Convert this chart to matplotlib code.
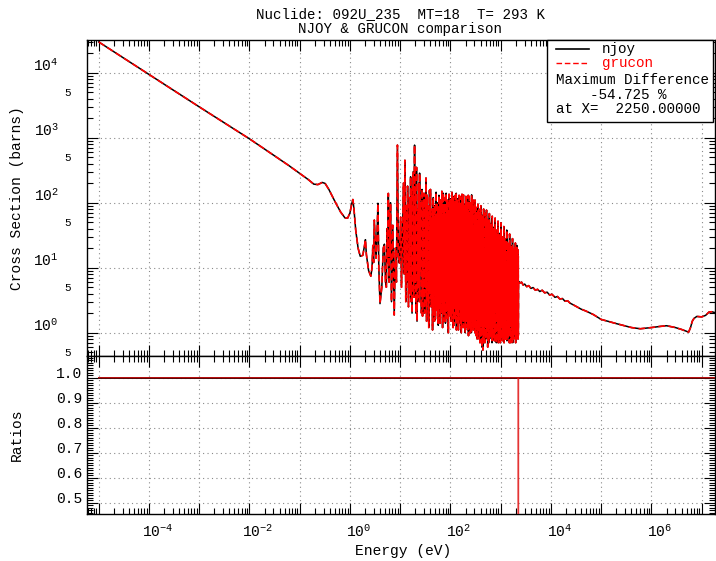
import matplotlib
matplotlib.use('Agg')
import matplotlib.pyplot as plt
import numpy as np
from matplotlib.ticker import LogLocator, MultipleLocator, FuncFormatter
from matplotlib.transforms import ScaledTranslation
from matplotlib.lines import Line2D
from matplotlib.patches import Rectangle

plt.rcParams['font.family'] = ['Liberation Mono', 'DejaVu Sans']
plt.rcParams['mathtext.default'] = 'regular'
plt.rcParams['path.simplify'] = False

# ---------------- data ----------------
title_line1 = "Nuclide: 092U_235  MT=18  T= 293 K"
title_line2 = "NJOY & GRUCON comparison"
legend_names = ["njoy", "grucon"]
max_diff_text = ["Maximum Difference", "-54.725 %", "at X=  2250.00000"]

thermal_E = [1e-5, 1e-4, 1e-3, 1e-2, 0.03, 0.06, 0.1, 0.15, 0.19, 0.23, 0.28, 0.32,
             0.38, 0.5, 0.65, 0.8, 0.9, 1.0, 1.08, 1.14, 1.2, 1.3, 1.45]
thermal_sigma = [29700, 9400, 2980, 960, 540, 375, 282, 225, 193, 190, 205, 198,
                 160, 105, 72, 58, 58, 70, 95, 112, 80, 38, 20]

res_low_E = [1.6, 1.8, 1.95, 2.03, 2.12, 2.35, 2.6, 2.75, 2.85, 2.95,
             3.05, 3.3, 3.45, 3.6, 3.75, 3.96, 4.3, 4.6, 4.85, 5.1,
             5.3, 5.5, 5.65, 5.8, 6.0, 6.2, 6.3, 6.4, 6.7, 7.1,
             7.6, 8.0, 8.4, 8.8, 9.2, 9.6, 10.2, 10.6, 11.6, 12.0,
             12.4, 12.9, 13.3, 13.8, 14.0, 14.6, 15.4, 15.8, 16.1, 16.5,
             16.7, 17.2, 18.1, 18.7, 19.3, 19.8, 20.1, 20.6, 21.1, 21.6,
             22.9, 23.1, 23.4, 24.0, 24.3, 25.0, 25.6, 26.5, 27.2, 27.8,
             28.4, 29.0, 29.7, 30.5, 31.4, 32.0, 32.6, 33.5, 34.4, 35.2,
             36.2, 37.0, 38.3, 39.0]
res_low_sigma = [15, 15.5, 22, 27, 16, 9, 7.4, 10, 22, 12,
                 54, 14, 30, 98, 10, 2.8, 5, 20, 23, 6,
                 5, 40, 12, 139, 6, 70, 15, 100, 3, 45,
                 1.87, 20, 6, 770, 15, 11.8, 60, 5, 200, 8,
                 450, 3, 90, 6, 180, 2.5, 120, 4, 250, 3,
                 160, 2, 300, 3.5, 770, 6, 150, 2, 350, 1.5,
                 80, 5, 200, 3, 285, 9.2, 100, 2, 160, 1.8,
                 90, 4, 140, 2, 110, 5, 240, 1.5, 130, 3,
                 90, 1.2, 155, 4]

# dense resolved-resonance band, (energy eV, cross section b)
band_a = [(40.0, 160), (40.4, 6), (40.8, 45), (41.2, 2.5), (41.7, 35), (42.1, 9),
          (42.6, 60), (43.1, 3), (43.5, 80), (44.0, 1.1), (44.5, 25), (45.0, 5),
          (45.5, 120), (46.0, 2), (46.5, 70), (47.0, 4), (47.5, 40), (48.0, 1.5),
          (48.5, 90), (49.0, 7), (49.6, 55), (50.1, 1.6), (50.7, 30), (51.2, 3.5),
          (51.8, 145), (52.4, 2.2), (52.9, 65), (53.5, 3.0), (54.1, 100), (54.7, 8),
          (55.3, 70), (55.9, 1.8), (56.6, 40), (57.2, 1.3), (57.8, 85), (58.4, 5),
          (59.0, 130), (59.7, 2.5), (60.3, 50), (61.0, 6), (61.7, 95), (62.4, 1.4),
          (63.1, 110), (63.8, 4), (64.5, 35), (65.2, 2.0), (65.9, 75), (66.7, 10),
          (67.4, 150), (68.1, 3), (68.9, 60), (69.6, 1.2), (70.4, 45), (71.2, 5),
          (72.0, 140), (72.8, 2), (73.6, 90), (74.4, 3.5), (75.2, 30), (76.1, 1.5),
          (76.9, 80), (77.8, 6), (78.6, 120), (79.5, 1.4), (80.4, 50), (81.2, 3),
          (82.1, 140), (83.0, 1.7), (84.0, 65), (84.9, 2.2), (85.8, 110), (86.8, 7),
          (87.7, 100), (88.7, 2.5), (89.7, 40), (90.7, 1.0), (91.7, 75), (92.7, 4),
          (93.7, 135), (94.7, 2), (95.8, 55), (96.8, 4.5), (97.9, 90), (99.0, 1.8)]
band_b = [(100, 115), (101.1, 3), (102.3, 60), (103.4, 1.5), (104.6, 95), (105.7, 6),
          (106.9, 145), (108.1, 2), (109.3, 50), (110.5, 2.8), (111.8, 120), (113.0, 1.2),
          (114.2, 125), (115.5, 5), (116.7, 40), (118, 1.3), (119.3, 85), (120.6, 2.5),
          (122, 90), (123.3, 9), (124.7, 130), (126, 1.6), (127.4, 45), (128.9, 3.5),
          (130.3, 140), (131.8, 1.1), (133.2, 70), (134.7, 3.2), (136.2, 115), (137.7, 1.9),
          (139.2, 105), (140.8, 6), (142.3, 35), (143.9, 1.1), (145.5, 95), (147.1, 2.3),
          (148.7, 130), (150.4, 4), (152.0, 55), (153.7, 2.4), (155.4, 125), (157.2, 1.4),
          (158.9, 85), (160.7, 7), (162.4, 40), (164.2, 1.0), (166.0, 100), (167.9, 3),
          (169.7, 135), (171.6, 1.6), (173.5, 65), (175.4, 3.0), (177.4, 110), (179.3, 1.2),
          (181.3, 132), (183.3, 5), (185.4, 45), (187.4, 1.8), (189.5, 90), (191.6, 2.8),
          (193.7, 95), (195.9, 1.0), (198.0, 60), (200.2, 1.2), (202.5, 125), (204.7, 4),
          (207, 120), (209.3, 1.5), (211.6, 50), (214, 2.6), (216.3, 105), (218.7, 1.1),
          (221, 75), (223.5, 6), (226.0, 130), (228.5, 0.9), (231.0, 40), (233.5, 2.4),
          (236, 125), (238.6, 1.3), (241.3, 70), (244, 2.0), (246.8, 35), (249.6, 1.0)]
band_c = [(252.5, 100), (255.3, 3), (258.1, 55), (261, 1.0), (264, 132), (267, 2),
          (270, 90), (273, 1.3), (276, 45), (279, 3.5), (282, 110), (285, 1.1),
          (288, 80), (291, 2.2), (295, 40), (298, 1.2), (301, 95), (305, 4),
          (308, 110), (311, 1.0), (315, 50), (318, 1.6), (322, 85), (325, 0.9),
          (329, 70), (333, 2.5), (336, 35), (340, 0.8), (344, 75), (347, 1.9),
          (351, 95), (355, 1.2), (359, 45), (363, 2.2), (367, 80), (371, 0.8),
          (375, 60), (379, 3), (384, 30), (388, 0.7), (392, 70), (397, 1.4),
          (401, 90), (405, 0.9), (410, 40), (414, 1.5), (419, 65), (423, 0.6),
          (428, 55), (433, 2.5), (437, 28), (442, 0.54), (447, 60), (452, 1.2),
          (457, 80), (462, 0.8), (467, 35), (472, 2.0), (477, 70), (483, 0.7),
          (488, 50), (493, 1.5), (499, 25), (505, 0.8), (510, 60), (516, 2.2),
          (522, 77), (528, 0.9), (533, 30), (539, 1.8), (545, 55), (551, 0.6),
          (557, 45), (563, 1.2), (570, 22), (576, 0.7), (582, 52), (589, 1.6),
          (595, 68), (602, 0.8), (608, 28), (615, 2.5), (622, 48), (629, 0.9),
          (636, 40), (643, 1.3), (650, 20), (657, 0.9), (664, 45), (672, 0.7),
          (679, 62), (687, 1.7), (694, 24), (702, 1.4)]
band_d = [(710, 42), (718, 0.8), (726, 35), (734, 1.9), (742, 18), (750, 0.75),
          (758, 40), (766, 1.2), (775, 58), (784, 0.8), (792, 20), (801, 2.2),
          (810, 38), (819, 0.7), (828, 32), (837, 1.5), (847, 16), (856, 0.85),
          (866, 35), (875, 1.1), (885, 52), (895, 0.7), (905, 19), (915, 1.3),
          (925, 34), (936, 0.8), (946, 30), (957, 2.0), (967, 14), (978, 0.7),
          (989, 32), (1000, 1.3), (1011, 49), (1022, 0.8), (1034, 17), (1045, 2.0),
          (1057, 30), (1068, 0.75), (1080, 27), (1092, 1.6), (1104, 13), (1116, 0.9),
          (1129, 29), (1141, 1.2), (1154, 43), (1167, 0.7), (1180, 15), (1193, 1.5),
          (1206, 28), (1220, 0.8), (1233, 25), (1247, 2.2), (1261, 12), (1275, 0.8),
          (1289, 26), (1304, 1.1), (1318, 38), (1333, 0.75), (1347, 14), (1362, 2.4),
          (1378, 24), (1393, 0.85), (1408, 22), (1424, 1.4), (1440, 11), (1455, 1.0),
          (1472, 23), (1488, 0.7), (1504, 33), (1521, 1.6), (1538, 12), (1555, 1.3),
          (1572, 22), (1590, 0.7), (1607, 20), (1625, 1.8), (1643, 10), (1661, 0.75),
          (1680, 21), (1698, 1.2), (1717, 28), (1736, 0.7), (1756, 11), (1775, 1.8),
          (1795, 19), (1815, 0.8), (1835, 18), (1855, 1.4), (1876, 9), (1897, 0.9),
          (1918, 20), (1939, 1.1), (1961, 24), (1983, 0.7), (2005, 10), (2027, 1.2),
          (2050, 18), (2072, 0.8), (2095, 22), (2118, 1.3), (2140, 12), (2160, 0.85),
          (2180, 19), (2200, 1.0), (2210, 17), (2225, 0.8), (2235, 15), (2240, 0.91)]

high_E = [2260, 2400, 2600, 2800, 3000, 3300, 3600, 4000, 4400, 4900,
          5400, 6000, 6700, 7500, 8400, 9400, 10500, 12000, 13500, 15000,
          17000, 19000, 21500, 24000, 30000, 40000, 50000, 70000, 1e5, 2e5,
          4e5, 6e5, 1e6, 1.5e6, 2e6, 3e6, 4e6, 5e6, 5.5e6, 6e6,
          6.5e6, 7e6, 8e6, 1e7, 1.2e7, 1.4e7, 1.6e7, 2e7]
high_sigma = [6.2, 5.8, 6.0, 5.4, 5.6, 5.1, 5.3, 4.8, 4.95, 4.5,
              4.65, 4.3, 4.5, 4.1, 4.2, 3.8, 3.9, 3.5, 3.6, 3.3,
              3.35, 3.05, 3.1, 2.85, 2.6, 2.3, 2.15, 1.9, 1.6, 1.38,
              1.2, 1.15, 1.2, 1.25, 1.28, 1.2, 1.12, 1.05, 1.02, 1.2,
              1.5, 1.65, 1.78, 1.75, 1.85, 2.08, 2.1, 2.0]

ratio_E = [1e-5, 2249, 2250, 2251, 2e7]
ratio_values = [1.0, 1.0, 0.45275, 1.0, 1.0]

band = band_a + band_b + band_c + band_d
band_E = [p[0] for p in band]
band_sigma = [p[1] for p in band]

energy = thermal_E + res_low_E + band_E + high_E
njoy_sigma = thermal_sigma + res_low_sigma + band_sigma + high_sigma
grucon_sigma = list(njoy_sigma)

# ---------------- figure ----------------
W, H = 716, 561
fig = plt.figure(figsize=(W / 100, H / 100), dpi=100)


def fx(px):
    return px / W


def fy(py):
    return 1 - py / H


L, R = 86.5, 714.5
T1, B1, B2 = 40, 356, 514
ax1 = fig.add_axes([fx(L), fy(B1), (R - L) / W, (B1 - T1) / H])
ax2 = fig.add_axes([fx(L), fy(B2), (R - L) / W, (B2 - B1) / H], sharex=ax1)

ax1.plot(energy, njoy_sigma, color='black', lw=1.1, zorder=3)
ax1.plot(energy, grucon_sigma, color='red', lw=1.2, ls=(0, (4, 2)), zorder=4)

ax2.plot([ratio_E[0], ratio_E[-1]], [1.0, 1.0], color='black', lw=1.4, zorder=3)
ax2.plot(ratio_E, ratio_values, color='#e01010', lw=1.0, alpha=0.85, zorder=4)

ax1.set_xscale('log')
ax1.set_yscale('log')
ax1.set_xlim(5.7e-6, 1.8e7)
ax1.set_ylim(0.438, 31850)
ax2.set_ylim(0.4548, 1.087)

grid_kw = dict(ls=(0, (1, 3)), color='#8a8a8a', lw=0.8)
for ax in (ax1, ax2):
    ax.xaxis.set_major_locator(LogLocator(base=10, numticks=40))
    ax.xaxis.set_minor_locator(LogLocator(base=10, subs=np.arange(2, 10), numticks=40))
    ax.tick_params(which='both', direction='in', top=True, right=True, width=0.8,
                   colors='black')
    ax.tick_params(which='major', length=8)
    ax.tick_params(which='minor', length=4)
    ax.grid(which='major', **grid_kw)
    ax.set_axisbelow(True)
    for s in ax.spines.values():
        s.set_linewidth(1.0)

ax1.tick_params(axis='x', labelbottom=False)


def xfmt(v, pos):
    e = int(round(np.log10(v)))
    if e % 2 == 0:
        return r'$\mathdefault{10^{%d}}$' % e
    return ''


ax2.xaxis.set_major_formatter(FuncFormatter(xfmt))
ax2.xaxis.set_minor_formatter(FuncFormatter(lambda v, p: ''))
ax2.tick_params(axis='x', which='major', labelsize=10.5, pad=7)

ax1.yaxis.set_major_locator(LogLocator(base=10, numticks=20))
ax1.yaxis.set_minor_locator(LogLocator(base=10, subs=np.arange(2, 10), numticks=20))
ax1.yaxis.set_major_formatter(FuncFormatter(
    lambda v, p: r'$\mathdefault{10^{%d}}$' % int(round(np.log10(v)))))


def minor5(v, pos):
    m = v / 10 ** np.floor(np.log10(v) + 1e-9)
    return '5' if abs(m - 5) < 0.01 else ''


ax1.yaxis.set_minor_formatter(FuncFormatter(minor5))
ax1.tick_params(axis='y', which='major', labelsize=10.5, pad=20)
ax1.tick_params(axis='y', which='minor', labelsize=8, pad=11)

ax2.yaxis.set_major_locator(MultipleLocator(0.1))
ax2.yaxis.set_minor_locator(MultipleLocator(0.01))
ax2.yaxis.set_major_formatter(FuncFormatter(lambda v, p: '%.1f' % v))
ax2.tick_params(axis='y', which='major', labelsize=10.5, pad=3)

# labels and title
fig.text(fx(400), fy(14), title_line1, ha='center', va='center', fontsize=10.2)
fig.text(fx(400), fy(29), title_line2, ha='center', va='center', fontsize=10.2)
fig.text(fx(17), fy(198), "Cross Section (barns)", rotation=90, ha='center',
         va='center', fontsize=10.5)
fig.text(fx(17), fy(435), "Ratios", rotation=90, ha='center', va='center', fontsize=10.5)
fig.text(fx(403), fy(551), "Energy (eV)", ha='center', va='center', fontsize=10.5)

# legend box
fig.add_artist(Rectangle((fx(547), fy(122)), (713 - 547) / W, (122 - 40) / H,
                         transform=fig.transFigure, facecolor='white',
                         edgecolor='black', lw=1.0, zorder=5))
fig.add_artist(Line2D([fx(556), fx(589)], [fy(49), fy(49)], transform=fig.transFigure,
                      color='black', lw=1.2, zorder=6))
fig.add_artist(Line2D([fx(556), fx(589)], [fy(63), fy(63)], transform=fig.transFigure,
                      color='red', lw=1.0, ls=(0, (4, 2)), zorder=6))
fig.text(fx(602), fy(49), legend_names[0], ha='left', va='center', fontsize=10.3,
         color='black', zorder=7)
fig.text(fx(602), fy(63), legend_names[1], ha='left', va='center', fontsize=10.3,
         color='red', zorder=7)
fig.text(fx(556), fy(80), max_diff_text[0], ha='left', va='center', fontsize=10.3, zorder=7)
fig.text(fx(590), fy(95), max_diff_text[1], ha='left', va='center', fontsize=10.3, zorder=7)
fig.text(fx(556), fy(109), max_diff_text[2], ha='left', va='center', fontsize=10.3, zorder=7)

# IDL-like label offsets (applied last)
up = ScaledTranslation(0, 6 / 72, fig.dpi_scale_trans)
for t in ax1.yaxis.get_major_ticks():
    t.label1.set_transform(t.label1.get_transform() + up)
for t in ax2.yaxis.get_major_ticks():
    t.label1.set_transform(t.label1.get_transform() + ScaledTranslation(0, 4 / 72, fig.dpi_scale_trans))
for t in ax2.xaxis.get_major_ticks():
    t.label1.set_transform(t.label1.get_transform() + ScaledTranslation(6 / 72, 0, fig.dpi_scale_trans))

fig.savefig('out.png', dpi=100)
